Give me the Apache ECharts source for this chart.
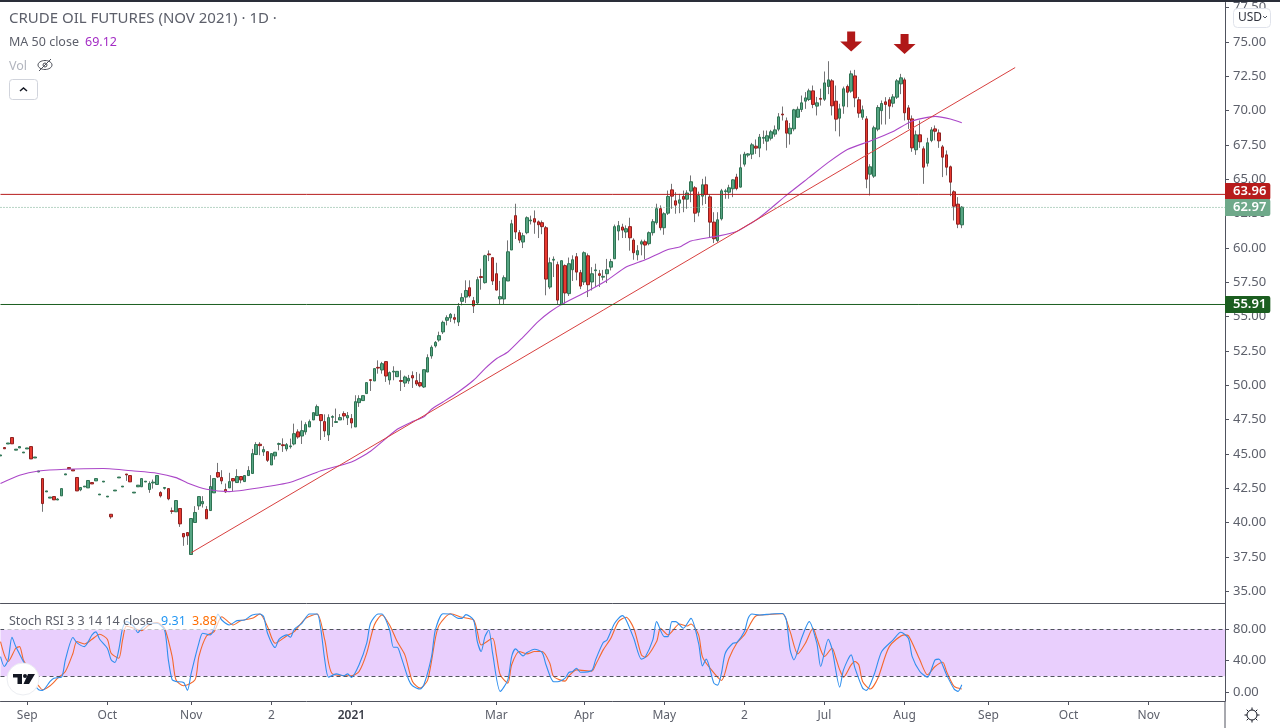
<!DOCTYPE html>
<html>
<head>
<meta charset="utf-8">
<title>Crude Oil Futures</title>
<script src="https://cdn.jsdelivr.net/npm/echarts@6/dist/echarts.min.js"></script>
<style>
  html, body { margin: 0; padding: 0; background: #fff; overflow: hidden; }
  #chart { width: 1280px; height: 728px; }
</style>
</head>
<body>
<div id="chart"></div>
<script>
const opens = [
  44.85,45.46,45.72,46.19,45.27,45.43,45.07,45.36,45.53,44.70,
  43.68,43.20,42.23,41.78,41.89,41.64,41.94,43.47,44.00,43.85,
  43.28,42.38,42.59,42.52,42.91,43.03,42.01,42.95,41.86,40.60,
  42.30,43.25,42.59,43.53,43.42,42.15,42.60,42.60,42.95,42.40,
  42.88,42.77,42.18,42.49,42.47,40.85,40.78,41.02,39.20,39.27,
  37.67,40.00,41.21,41.36,40.95,40.87,42.16,43.64,43.28,42.40,
  42.52,43.20,42.91,43.35,42.98,43.42,43.57,44.95,45.70,45.14,
  45.16,44.19,44.85,45.69,45.66,45.36,45.52,45.72,46.60,46.30,
  46.60,46.96,47.47,47.79,47.86,47.35,46.38,47.66,47.29,47.47,
  47.93,47.62,47.57,46.96,48.73,48.88,49.39,50.40,50.31,51.30,
  51.11,51.72,50.38,50.96,50.62,50.34,50.16,50.31,50.70,50.33,
  50.19,49.87,50.96,52.13,52.86,53.29,53.88,54.73,54.90,54.92,
  54.60,56.11,56.42,57.10,56.16,55.99,57.91,57.47,59.56,59.29,
  58.12,56.28,56.28,57.59,59.85,62.35,61.11,60.43,61.11,61.97,
  62.13,61.90,61.84,61.47,57.15,59.11,58.78,55.87,58.71,56.67,
  58.41,59.36,58.20,57.52,59.43,57.52,58.34,58.12,57.87,58.12,
  58.60,59.21,61.23,61.52,61.16,61.55,60.57,59.50,60.28,60.45,
  60.31,61.11,61.84,62.86,61.47,62.53,64.23,63.43,63.26,63.75,
  63.55,64.14,64.38,62.60,63.77,64.60,63.72,61.88,60.54,62.12,
  64.10,64.06,64.31,65.16,64.43,66.10,66.76,66.83,67.41,67.27,
  67.99,67.78,67.99,68.29,68.65,69.75,69.26,68.31,68.67,69.52,
  70.08,70.69,70.81,71.44,70.33,70.89,70.83,71.76,72.17,70.69,
  69.45,70.33,71.76,71.42,72.53,70.79,69.52,69.40,65.37,65.23,
  68.65,70.00,70.64,70.79,70.54,70.98,71.95,72.24,70.20,69.40,
  67.15,68.24,67.22,66.17,67.83,68.67,68.38,67.36,66.78,65.91,
  64.09,63.19,61.68
]
const highs = [
  44.92,45.46,45.79,46.19,45.34,45.53,45.13,45.43,45.53,44.77,
  43.75,43.20,42.30,41.85,41.89,41.77,42.47,43.54,44.00,43.85,
  43.28,42.55,42.65,43.06,42.91,43.20,42.07,43.01,41.92,40.60,
  42.36,43.31,42.65,43.53,43.42,42.21,42.72,43.20,43.01,43.00,
  43.13,43.42,42.28,42.55,42.47,41.09,41.60,41.02,39.20,39.27,
  40.29,41.19,41.89,41.92,41.19,43.45,43.20,44.34,43.81,42.84,
  43.62,43.20,43.88,43.35,43.42,44.10,45.36,45.85,45.85,45.55,
  45.16,45.02,45.12,45.82,46.13,45.79,46.11,47.20,46.79,47.42,
  47.30,47.50,48.00,48.59,47.86,47.88,47.88,47.81,48.30,47.90,
  48.10,48.05,47.90,49.27,49.27,49.24,50.19,50.42,51.21,51.81,
  51.70,51.72,51.00,51.38,51.01,51.09,50.70,50.75,51.01,50.96,
  50.84,51.13,52.25,52.90,53.22,53.90,54.70,55.09,55.26,55.20,
  55.99,56.70,57.64,57.64,56.43,57.90,58.49,59.50,59.82,59.29,
  58.92,57.60,58.00,60.55,62.05,63.22,61.30,61.10,62.30,62.35,
  62.73,62.00,62.00,61.60,59.30,59.38,59.00,59.07,58.80,59.30,
  59.46,59.63,58.40,59.75,59.60,58.60,58.85,58.40,58.40,59.20,
  59.20,61.70,61.96,61.76,61.64,62.20,60.70,60.20,60.60,60.60,
  61.20,62.10,63.22,63.10,62.60,64.18,64.67,64.06,63.94,64.18,
  64.20,65.28,64.50,64.10,65.03,65.20,63.90,62.60,62.60,64.30,
  64.30,64.60,65.00,65.40,66.81,67.00,66.90,67.65,67.90,68.30,
  68.55,68.55,68.60,68.92,69.82,70.30,69.50,69.10,70.13,70.30,
  71.10,71.35,71.60,71.83,71.00,71.60,72.85,73.60,72.30,71.83,
  70.50,71.75,71.90,72.92,72.97,71.00,70.37,69.60,66.10,68.90,
  70.40,70.74,70.98,70.98,71.20,72.30,72.68,72.40,70.40,69.65,
  68.55,69.28,67.40,68.02,68.80,68.92,68.63,67.50,67.10,66.00,
  64.20,63.70,63.05
]
const lows = [
  44.85,45.37,45.72,45.73,45.27,45.43,45.07,45.36,44.63,44.70,
  43.68,40.78,42.23,41.78,41.65,41.64,41.94,43.47,43.91,43.76,
  42.30,42.28,42.59,42.52,42.81,43.03,42.01,42.95,41.86,40.27,
  42.30,43.25,42.59,43.03,42.96,42.15,42.60,42.60,42.95,42.16,
  42.47,42.77,41.82,42.40,41.62,40.63,40.78,39.68,38.30,38.37,
  37.67,40.00,40.92,41.09,40.27,40.87,42.16,43.25,42.79,42.16,
  42.52,42.28,42.91,42.86,42.98,43.42,43.57,44.95,44.90,44.85,
  44.41,44.19,44.58,45.26,45.14,45.19,45.38,45.62,46.10,45.72,
  46.40,46.96,47.47,47.79,46.01,46.23,45.94,46.96,47.25,47.47,
  47.45,47.10,46.86,46.96,48.42,48.88,49.39,49.58,50.31,50.84,
  50.84,50.24,50.04,50.36,50.62,49.58,49.87,50.10,49.80,49.95,
  49.85,49.80,50.96,51.93,52.74,53.17,53.73,54.36,54.60,54.50,
  54.31,55.82,55.99,56.38,55.26,55.90,56.96,57.40,59.04,57.30,
  56.90,55.89,55.90,57.59,59.85,60.65,60.35,59.99,61.00,61.71,
  61.03,60.72,61.00,56.55,57.00,57.88,55.87,55.87,55.94,56.50,
  57.59,57.64,57.00,57.30,56.42,56.90,57.15,57.15,57.64,57.44,
  58.36,59.21,60.55,60.72,60.72,59.80,59.14,59.09,59.46,59.17,
  60.19,60.90,61.70,61.28,60.96,62.40,62.85,62.49,62.53,62.60,
  62.85,63.33,61.88,62.30,63.10,63.20,60.79,60.35,60.40,62.00,
  63.58,63.58,63.70,64.20,64.40,65.93,66.60,66.47,66.85,66.61,
  67.58,67.10,67.83,68.10,68.50,69.28,67.29,67.53,68.50,69.48,
  69.90,70.13,70.70,70.18,69.65,70.37,70.70,71.20,69.65,68.50,
  68.12,69.77,70.25,71.30,70.25,69.48,69.33,64.35,63.82,65.10,
  68.50,68.99,68.99,69.40,70.25,70.85,71.20,69.28,68.67,67.00,
  66.78,67.29,64.67,65.93,67.70,67.83,67.29,65.16,65.28,63.77,
  62.00,61.44,61.44
]
const closes = [
  44.92,45.37,45.79,45.73,45.34,45.53,45.13,45.43,44.63,44.77,
  43.75,41.38,42.30,41.85,41.65,41.71,42.47,43.54,43.91,43.76,
  42.30,42.55,42.65,43.06,42.81,43.20,42.07,43.01,41.92,40.41,
  42.36,43.31,42.65,43.47,42.96,42.21,42.72,43.20,43.01,42.84,
  42.94,43.42,41.94,42.55,41.72,40.81,41.60,39.90,38.95,39.03,
  40.29,40.73,41.89,41.53,40.27,42.62,43.20,43.32,43.03,42.23,
  42.98,43.03,43.35,43.10,43.42,43.79,45.02,45.68,45.60,45.31,
  44.53,45.02,45.12,45.75,45.60,45.67,45.58,46.47,46.23,46.69,
  47.13,47.35,48.00,48.44,47.42,46.67,47.64,47.72,47.35,47.64,
  47.76,47.79,47.25,48.80,49.02,49.24,50.19,50.35,51.21,51.25,
  51.57,50.67,50.92,51.02,51.01,50.28,50.60,50.50,50.53,50.09,
  49.95,51.13,52.01,52.76,53.12,53.61,54.58,54.92,55.16,54.80,
  55.74,56.38,56.90,56.50,55.77,57.69,57.85,59.43,59.50,57.59,
  56.93,56.45,57.83,59.72,61.76,61.16,60.57,60.89,62.20,62.03,
  61.88,61.69,61.55,57.73,58.92,59.17,56.20,59.07,56.72,58.85,
  59.14,58.24,57.22,59.65,57.32,58.12,58.40,58.00,57.93,58.41,
  59.00,61.55,61.62,61.30,61.40,60.74,59.65,59.80,60.45,60.21,
  61.11,61.91,62.86,61.47,62.49,63.75,63.77,63.12,63.50,63.55,
  64.00,64.82,62.53,63.82,64.60,63.89,61.88,60.67,62.05,64.16,
  64.16,64.38,64.96,64.33,65.84,66.83,66.85,67.51,67.27,68.07,
  68.05,68.17,68.46,68.60,69.55,69.69,68.36,68.72,70.06,70.10,
  70.57,70.93,71.44,70.45,70.57,70.83,72.02,72.24,70.35,69.38,
  70.13,71.59,71.34,72.68,70.93,69.82,70.06,65.01,65.91,68.75,
  70.23,70.52,70.45,70.33,71.00,72.17,72.39,69.84,69.35,67.29,
  68.24,67.73,65.88,67.66,68.60,68.50,67.80,66.61,65.88,64.79,
  63.04,61.73,62.97
]

const maIdx = [0,5,10,17,27,35,41,46,49,54,60,68,76,84,92,97,104,108,111,113,116,120,124,127,130,133,137,141,144,147,154,159,164,169,175,178,181,188,193,199,206,212,217,222,228,234,239,245,249,252]
const maVal = [42.84,43.44,43.75,43.88,43.93,43.75,43.59,43.27,42.88,42.42,42.25,42.53,42.93,43.77,44.41,45.19,46.79,47.35,47.70,48.25,48.78,49.51,50.36,51.21,51.93,52.42,53.51,54.65,55.33,55.87,56.86,57.64,58.61,59.14,59.89,60.06,60.51,60.86,61.20,62.22,63.83,65.14,66.23,67.17,67.79,68.48,69.25,69.58,69.39,69.12]

const trendIdx = [50, 266]
const trendVal = [37.80, 73.14]

// horizontal levels: where each line sits on the picture, and the price on its tag
const levelIdx = [0, 321]
const levelVal = [63.90, 62.95, 55.88]
const levelTags = ['63.96', '62.97', '55.91']

const arrowIdx = [223, 237]
const arrowVal = [75.04, 74.85]

const kIdx = [0,1,2,3,4,6,7,8,9,10,11,13,14,16,17,19,20,22,24,25,26,28,29,30,31,32,33,35,36,37,39,41,43,44,45,46,48,49,50,52,53,55,56,57,58,60,62,64,66,68,69,70,72,73,75,76,77,79,81,83,84,85,86,88,90,91,92,94,96,97,99,100,102,103,104,105,107,108,110,111,113,114,116,118,120,121,122,124,125,126,127,128,129,131,133,134,135,137,138,140,142,143,145,146,148,149,150,151,152,155,156,158,159,161,163,164,166,168,169,171,172,174,175,176,177,179,181,183,184,185,187,188,189,190,192,193,195,196,197,199,202,205,206,207,208,210,212,214,215,217,218,220,221,223,224,226,227,229,231,234,236,238,239,241,243,245,246,248,250,251,252]
const kVal = [45.2,32.5,41,69.8,57.9,38.9,28.3,19.8,9.3,2.9,2.1,13.5,17.7,19,41,69.4,63,57.9,72.8,76.6,67.2,55.8,41,37.6,53.7,81.2,89.7,83.3,75.7,81.2,87.6,87.6,79.1,41,15.6,13.5,12.2,2.1,24.1,62.2,74.9,72.8,81.2,99.4,91.8,85.5,91,91.8,98.2,99.4,96,74.9,56.7,67.2,72.8,69.8,79.9,87.6,99.4,99.4,79.1,41,19,23.2,20.7,23.2,18.6,34.7,62.2,87.6,99.4,99.4,79.1,57.1,57.1,45.2,15.6,8,3.8,9.3,45.2,79.1,99.8,99.4,93.9,93.9,98.6,91.8,64.3,51.6,70.6,79.1,49.5,0.8,15.6,45.2,55,46.1,50.3,54.6,50.3,34.7,13.1,13.1,17.7,24.9,26.2,30.4,25.3,27.5,41,63,66.4,87.6,97.3,91.8,68.5,41.9,44.4,66.4,89.7,70.6,70.6,89.7,89.7,81.2,93.9,62.2,33.4,41.9,11.4,8.8,24.1,49.5,62.2,63,77,93.9,99.4,98.2,99.4,100,91.8,53.7,41,68.5,89.7,62.2,32.5,67.2,54.6,6.3,28.3,47.4,30.4,5,2.1,22,51.6,66.4,76.1,68.5,45.2,26.2,19,41,41.9,22,3.8,0.8,9.31]

const dIdx = [0,1,2,4,5,6,7,8,9,10,11,13,15,17,19,20,22,24,26,28,29,31,32,33,35,37,39,41,43,45,46,48,51,52,54,56,58,61,63,66,68,70,72,75,77,80,83,85,87,92,94,96,98,100,102,104,106,108,110,112,114,115,118,121,124,125,126,129,130,131,133,134,136,138,140,142,144,145,148,149,151,155,156,158,160,162,164,166,168,169,172,173,175,178,180,181,183,184,186,189,191,193,195,198,201,205,207,209,211,213,214,216,218,219,220,221,223,224,225,226,228,230,233,237,238,241,243,245,247,248,250,252]
const dVal = [64.3,47.4,38.9,55.8,57.9,41,32.5,24.1,13.5,8,2.9,8,17.7,26.2,49.5,64.3,61.3,67.2,73.6,67.2,49.5,43.1,66.4,84.2,81.2,78.3,85.5,88.4,81.2,45.2,15.6,8,15.6,45.2,71.5,77,96,85.5,91,93.9,99.4,83.3,62.2,71.5,77,93.9,99.4,66.4,23.2,20.7,26.2,49.5,85.5,98.2,85.5,64.3,47.4,13.5,5,15.6,68.5,85.5,99.8,95.2,91.8,77,60,68.5,47.4,22,11.4,34.7,51.6,48.6,51.6,51.6,36.8,19.8,13.9,20.7,28.3,26.6,34.7,53.7,68.5,89.7,95.2,81.2,47.4,44.4,64.3,81.2,72.8,86.7,84.2,86.7,72.8,45.2,30.4,14.8,43.1,62.2,72.8,96.9,98.6,99.8,77,48.6,62.2,81.2,68.5,45.2,55.8,43.1,28.3,19,34.7,38.9,34.7,13.5,3.8,17.7,57.9,72.8,71.9,41,22,32.5,38,26.2,7.1,3.88]

const tickIdx = [7,28,50,71,92,130,153,174,195,216,237,259,280,301]
const tickLabels = ['Sep','Oct','Nov','2','2021','Mar','Apr','May','2','Jul','Aug','Sep','Oct','Nov']
const priceTicks = [35,37.5,40,42.5,45,47.5,50,52.5,55,57.5,60,62.5,65,67.5,70,72.5,75,77.5]
const stochTicks = [0,40,80]
const categories = Array.from({ length: 322 }, (_, i) => String(i))

const FONT = '"Noto Sans", sans-serif'
const AXIS = '#50535e'
const LABEL = '#5d606b'
const UP = '#56a583'
const UP_EDGE = '#2f7353'
const DOWN = '#e8392f'
const DOWN_EDGE = '#8f2020'

const pairs = (xs, ys) => xs.map((x, i) => [x, ys[i]])

const myChart = echarts.init(document.getElementById('chart'))

function level(i, color, type, lift) {
  return {
    name: 'level' + i,
    type: 'line',
    xAxisIndex: 0,
    yAxisIndex: 0,
    z: 5,
    showSymbol: false,
    data: levelIdx.map(x => [x, levelVal[i]]),
    lineStyle: { color, width: 1, type },
    endLabel: {
      show: true,
      distance: 0,
      offset: [0, lift],
      formatter: levelTags[i],
      color: '#fff',
      fontFamily: FONT,
      fontSize: 13,
      fontWeight: 600,
      backgroundColor: color,
      padding: [3, 4, 1, 8],
      borderRadius: [0, 2, 2, 0]
    }
  }
}

function text(x, y, str, color, size) {
  return {
    type: 'text',
    x, y,
    z: 100,
    style: { text: str, fill: color, font: (size || 13) + 'px ' + FONT, verticalAlign: 'middle' }
  }
}

function seg(x1, y1, x2, y2, color, w) {
  return {
    type: 'line',
    z: 101,
    shape: { x1, y1, x2, y2 },
    style: { stroke: color, lineWidth: w || 1 }
  }
}

myChart.setOption({
  animation: false,
  backgroundColor: '#fff',
  grid: [
    { left: 0.5, right: 55, top: 2.5, height: 601 },
    { left: 0.5, right: 55, top: 603.5, height: 97.5 }
  ],
  xAxis: [
    {
      type: 'category',
      gridIndex: 0,
      data: categories,
      boundaryGap: false,
      axisLine: { show: true, onZero: false, lineStyle: { color: AXIS } },
      axisTick: { show: false },
      axisLabel: { show: false },
      splitLine: { show: false }
    },
    {
      type: 'category',
      gridIndex: 1,
      data: categories,
      boundaryGap: false,
      axisLine: { show: true, onZero: false, lineStyle: { color: AXIS } },
      axisTick: {
        show: true,
        length: 4,
        interval: i => tickIdx.includes(i),
        lineStyle: { color: AXIS }
      },
      axisLabel: {
        interval: i => tickIdx.includes(i),
        formatter: (v, i) => {
          const name = tickLabels[tickIdx.indexOf(i)]
          return name === '2021' ? '{y|2021}' : name
        },
        color: LABEL,
        fontFamily: FONT,
        fontSize: 12,
        margin: 9,
        rich: { y: { color: '#3a3d47', fontFamily: FONT, fontSize: 12, fontWeight: 600 } }
      },
      splitLine: { show: false }
    }
  ],
  yAxis: [
    {
      type: 'value',
      gridIndex: 0,
      position: 'right',
      min: 34.1,
      max: 77.877,
      axisLine: { show: true, lineStyle: { color: AXIS } },
      axisTick: { show: true, length: 4, customValues: priceTicks, lineStyle: { color: AXIS } },
      axisLabel: {
        customValues: priceTicks,
        formatter: v => v.toFixed(2),
        color: LABEL,
        fontFamily: FONT,
        fontSize: 13,
        margin: 8,
        padding: [2, 0, 0, 0]
      },
      splitLine: { show: false }
    },
    {
      type: 'value',
      gridIndex: 1,
      position: 'right',
      min: -11.4,
      max: 112.8,
      axisLine: { show: true, lineStyle: { color: AXIS } },
      axisTick: { show: true, length: 4, customValues: stochTicks, lineStyle: { color: AXIS } },
      axisLabel: {
        customValues: stochTicks,
        formatter: v => v.toFixed(2),
        color: LABEL,
        fontFamily: FONT,
        fontSize: 13,
        margin: 8,
        padding: [2, 0, 0, 0]
      },
      splitLine: { show: false }
    }
  ],
  series: [
    {
      // thin grey candles give the wicks, bodies are drawn over them
      name: 'wicks',
      type: 'candlestick',
      xAxisIndex: 0,
      yAxisIndex: 0,
      barWidth: 1,
      z: 2,
      data: opens.map((o, i) => [o, closes[i], lows[i], highs[i]]),
      itemStyle: { color: '#737375', color0: '#737375', borderColor: '#737375', borderColor0: '#737375', borderWidth: 1 }
    },
    {
      name: 'bodies',
      type: 'candlestick',
      xAxisIndex: 0,
      yAxisIndex: 0,
      barWidth: 3,
      z: 3,
      data: opens.map((o, i) => [o, closes[i], Math.min(o, closes[i]), Math.max(o, closes[i])]),
      itemStyle: { color: UP, color0: DOWN, borderColor: UP_EDGE, borderColor0: DOWN_EDGE, borderWidth: 1 }
    },
    {
      name: 'MA 50',
      type: 'line',
      xAxisIndex: 0,
      yAxisIndex: 0,
      z: 4,
      smooth: 0.2,
      showSymbol: false,
      data: pairs(maIdx, maVal),
      lineStyle: { color: '#ab47c8', width: 1.1 },
      markPoint: {
        silent: true,
        symbol: 'path://M7,0 H15 V10 H22 L11,20 L0,10 H7 Z',
        symbolSize: [22, 20],
        itemStyle: { color: '#b01818' },
        label: { show: false },
        data: arrowIdx.map((x, i) => ({ coord: [x, arrowVal[i]] }))
      }
    },
    {
      name: 'trend',
      type: 'line',
      xAxisIndex: 0,
      yAxisIndex: 0,
      z: 4,
      showSymbol: false,
      data: pairs(trendIdx, trendVal),
      lineStyle: { color: '#d8403f', width: 1 }
    },
    level(0, '#b71c1c', 'solid', -3),
    level(1, '#6fa98a', [1, 2], 0),
    level(2, '#1b5e20', 'solid', 0),
    {
      name: 'K',
      type: 'line',
      xAxisIndex: 1,
      yAxisIndex: 1,
      z: 5,
      smooth: 0.25,
      showSymbol: false,
      data: pairs(kIdx, kVal),
      lineStyle: { color: '#2f8fee', width: 1.1 },
      markArea: {
        silent: true,
        itemStyle: { color: '#e9cffd' },
        data: [[{ yAxis: 20 }, { yAxis: 80 }]]
      },
      markLine: {
        silent: true,
        symbol: 'none',
        animation: false,
        label: { show: false },
        lineStyle: { color: '#50535e', width: 1, type: [4, 3] },
        data: [{ yAxis: 80 }, { yAxis: 20 }]
      }
    },
    {
      name: 'D',
      type: 'line',
      xAxisIndex: 1,
      yAxisIndex: 1,
      z: 4,
      smooth: 0.25,
      showSymbol: false,
      data: pairs(dIdx, dVal),
      lineStyle: { color: '#f4682c', width: 1.1 }
    }
  ],
  graphic: [
    { type: 'rect', z: 99, shape: { x: 0, y: 0, width: 1280, height: 2 }, style: { fill: '#2a2e39' } },
    seg(1225, 701, 1225, 728, AXIS),

    text(9, 19, 'CRUDE OIL FUTURES (NOV 2021) · 1D ·', '#5d606b', 15),
    text(9, 42, 'MA 50 close', '#5d606b', 12.5),
    text(85, 42, '69.12', '#a32cc4', 12.5),
    text(9, 66, 'Vol', '#b2b5be', 12.5),

    // hidden-volume eye
    { type: 'ellipse', z: 101, shape: { cx: 45, cy: 65, rx: 7, ry: 4.5 }, style: { fill: 'none', stroke: '#4c4f59', lineWidth: 1 } },
    { type: 'circle', z: 101, shape: { cx: 45, cy: 65, r: 2 }, style: { fill: 'none', stroke: '#4c4f59', lineWidth: 1 } },
    seg(39, 71, 51, 59, '#4c4f59'),

    // collapse button
    { type: 'rect', z: 100, shape: { x: 9.5, y: 79.5, width: 28, height: 20, r: 3 }, style: { fill: '#fff', stroke: '#d1d4dc', lineWidth: 1 } },
    { type: 'polyline', z: 101, shape: { points: [[20, 91], [23.5, 88], [27, 91]] }, style: { fill: 'none', stroke: '#131722', lineWidth: 1.5 } },

    // currency button
    { type: 'rect', z: 100, shape: { x: 1233.5, y: 8.5, width: 37, height: 19, r: 4 }, style: { fill: '#fff', stroke: '#e0e3eb', lineWidth: 1 } },
    text(1238, 18, 'USD', '#30333d', 12),
    { type: 'polyline', z: 101, shape: { points: [[1263, 16], [1265, 18], [1267, 16]] }, style: { fill: 'none', stroke: '#50535e', lineWidth: 1 } },

    // stochastic legend
    { type: 'rect', z: 90, shape: { x: 4, y: 612, width: 216, height: 18 }, style: { fill: 'rgba(255,255,255,0.65)' } },
    text(9, 621, 'Stoch RSI 3 3 14 14 close', '#5d606b', 12.5),
    text(161, 621, '9.31', '#2196f3', 12.5),
    text(192, 621, '3.88', '#ff6d00', 12.5),

    // logo badge
    { type: 'circle', z: 100, shape: { cx: 23, cy: 679, r: 16 }, style: { fill: '#fff', stroke: '#eceef2', lineWidth: 1 } },
    { type: 'rect', z: 101, shape: { x: 13, y: 674, width: 9, height: 3.5 }, style: { fill: '#131722' } },
    { type: 'rect', z: 101, shape: { x: 17.5, y: 674, width: 4.5, height: 10 }, style: { fill: '#131722' } },
    { type: 'circle', z: 101, shape: { cx: 25, cy: 676, r: 2 }, style: { fill: '#131722' } },
    { type: 'polygon', z: 101, shape: { points: [[28, 674], [35, 674], [29, 684], [23.5, 684]] }, style: { fill: '#131722' } },

    // settings gear
    { type: 'circle', z: 101, shape: { cx: 1252, cy: 715, r: 5 }, style: { fill: 'none', stroke: '#131722', lineWidth: 1 } },
    seg(1252, 707.5, 1252, 710, '#131722'),
    seg(1252, 720, 1252, 722.5, '#131722'),
    seg(1244.5, 715, 1247, 715, '#131722'),
    seg(1257, 715, 1259.5, 715, '#131722'),
    seg(1246.7, 709.7, 1248.5, 711.5, '#131722'),
    seg(1255.5, 718.5, 1257.3, 720.3, '#131722'),
    seg(1246.7, 720.3, 1248.5, 718.5, '#131722'),
    seg(1255.5, 711.5, 1257.3, 709.7, '#131722')
  ]
})
</script>
</body>
</html>
